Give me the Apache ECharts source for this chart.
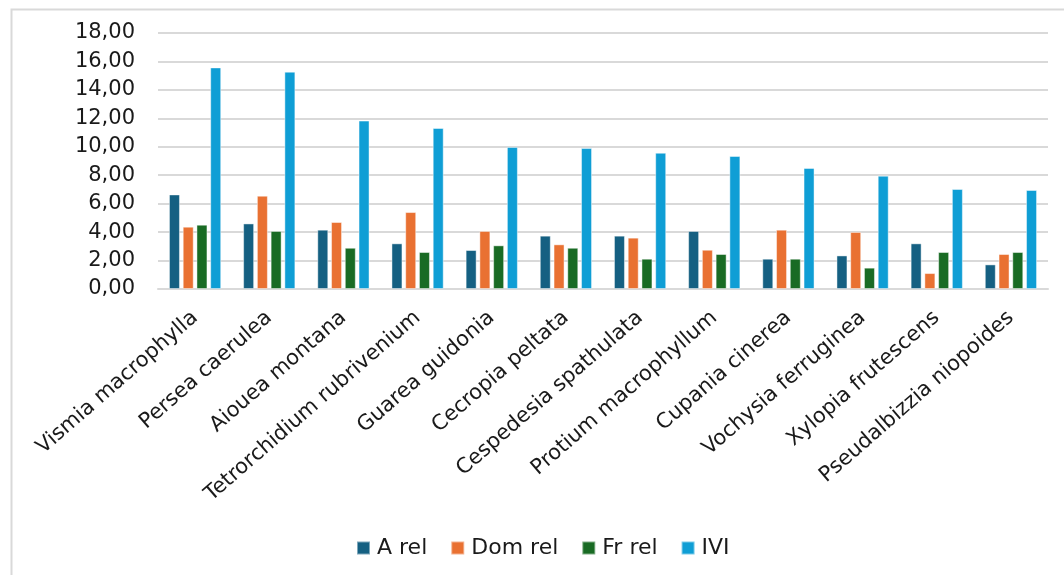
<!DOCTYPE html>
<html>
<head>
<meta charset="utf-8">
<style>
  html, body { margin: 0; padding: 0; background: #ffffff; }
  #chart { width: 1064px; height: 575px; }
</style>
<script src="https://cdn.jsdelivr.net/npm/echarts@6/dist/echarts.min.js"></script>
</head>
<body>
<div id="chart"></div>
<script>
// Species, in descending order of importance value
const species = [
  'Vismia macrophylla', 'Persea caerulea', 'Aiouea montana',
  'Tetrorchidium rubrivenium', 'Guarea guidonia', 'Cecropia peltata',
  'Cespedesia spathulata', 'Protium macrophyllum', 'Cupania cinerea',
  'Vochysia ferruginea', 'Xylopia frutescens', 'Pseudalbizzia niopoides'
];

// Relative abundance, dominance, frequency and importance value index
const aRel   = [6.65, 4.61, 4.17, 3.21, 2.74, 3.75, 3.75, 4.08, 2.13, 2.36, 3.21, 1.73];
const domRel = [4.38, 6.56, 4.71, 5.41, 4.08, 3.14, 3.61, 2.76, 4.17, 4.01, 1.12, 2.46];
const frRel  = [4.52, 4.08, 2.90, 2.60, 3.07, 2.90, 2.13, 2.46, 2.13, 1.50, 2.60, 2.60];
const ivi    = [15.58, 15.28, 11.84, 11.32, 9.99, 9.91, 9.58, 9.35, 8.51, 7.97, 7.03, 6.96];

const seriesNames = ['A rel', 'Dom rel', 'Fr rel', 'IVI'];
const seriesValues = [aRel, domRel, frRel, ivi];
const seriesColors = ['#156082', '#E97132', '#196B24', '#0F9ED5'];

const FONT = 'DejaVu Sans';
const fmt = v => v.toFixed(2).replace('.', ',');

const chart = echarts.init(document.getElementById('chart'), null, { renderer: 'canvas' });

chart.setOption({
  animation: false,
  backgroundColor: '#ffffff',
  textStyle: { fontFamily: FONT },
  graphic: [{
    type: 'rect',
    left: 9, top: 7,
    shape: { width: 1100, height: 620 },
    style: { fill: 'none', stroke: '#d9d9d9', lineWidth: 2 },
    silent: true
  }],
  grid: { left: 158, right: 16, top: 33, bottom: 286, containLabel: false },
  legend: {
    left: 351,
    top: 532,
    itemWidth: 13,
    itemHeight: 13,
    itemGap: 23,
    icon: 'rect',
    textStyle: { fontFamily: FONT, fontSize: 22, color: '#1a1a1a', padding: [0, 0, 0, 2] },
    data: seriesNames
  },
  xAxis: {
    type: 'category',
    data: species,
    axisLine: { show: true, lineStyle: { color: '#d9d9d9', width: 2 } },
    axisTick: { show: false },
    axisLabel: {
      interval: 0,
      rotate: 41,
      margin: 26,
      fontFamily: FONT,
      fontSize: 21,
      color: '#1a1a1a'
    }
  },
  yAxis: {
    type: 'value',
    min: 0,
    max: 18,
    interval: 2,
    axisLine: { show: false },
    axisTick: { show: false },
    splitLine: { lineStyle: { color: '#d9d9d9', width: 2 } },
    axisLabel: {
      margin: 23,
      fontFamily: FONT,
      fontSize: 21,
      color: '#1a1a1a',
      formatter: fmt
    }
  },
  series: seriesNames.map((name, i) => ({
    name,
    type: 'bar',
    data: seriesValues[i],
    barWidth: 11,
    barGap: '25%',
    itemStyle: {
      color: seriesColors[i],
      borderColor: 'rgba(255,255,255,0.45)',
      borderWidth: 1
    }
  }))
});
</script>
</body>
</html>
